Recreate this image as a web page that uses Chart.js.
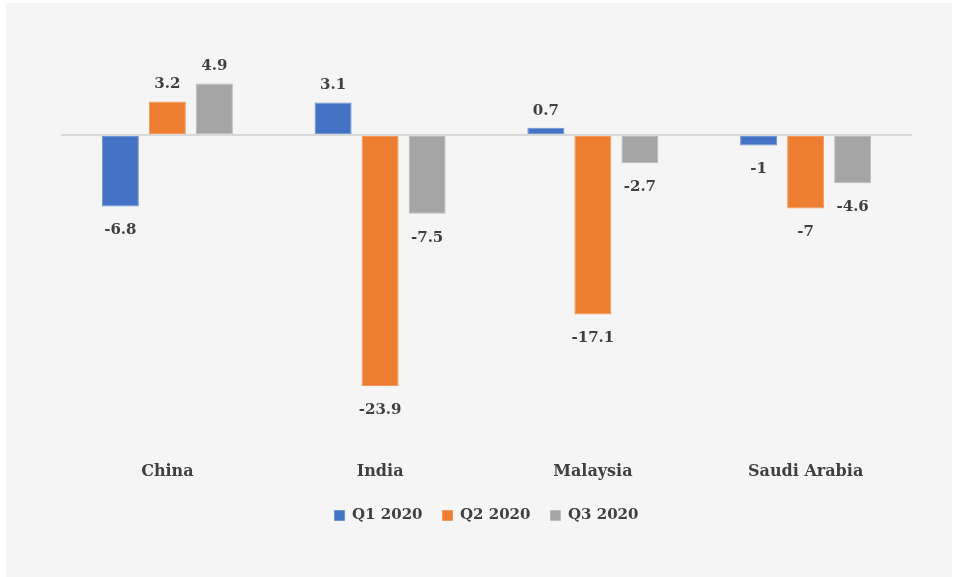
<!DOCTYPE html>
<html>
<head>
<meta charset="utf-8">
<script src="https://cdn.jsdelivr.net/npm/chart.js@4.4.1/dist/chart.umd.min.js"></script>
<style>
    html, body { margin: 0; padding: 0; background: #ffffff; }
    .panel {
        position: absolute;
        left: 6px;
        top: 3px;
        width: 946px;
        height: 574px;
        background: #f4f5f4;
    }
</style>
</head>
<body>
<div class="panel">
    <canvas id="gdp-chart" width="946" height="574"></canvas>
</div>
<script>
    // 国別・四半期別 GDP 成長率 (%)
    const countries = ['China', 'India', 'Malaysia', 'Saudi Arabia'];
    const seriesNames = ['Q1 2020', 'Q2 2020', 'Q3 2020'];
    const q1Values = [-6.8, 3.1, 0.7, -1];
    const q2Values = [3.2, -23.9, -17.1, -7];
    const q3Values = [4.9, -7.5, -2.7, -4.6];

    const fillColors = ['#4472c4', '#ed7d31', '#a5a5a5'];
    const edgeColors = ['#6f93d3', '#f29a5e', '#bcbcbc'];
    const textColor = '#404040';
    const fontFamily = '"DejaVu Serif", Georgia, serif';

    // 棒の端に値を描く
    const valueLabels = {
        id: 'valueLabels',
        afterDatasetsDraw(chart) {
            const ctx = chart.ctx;
            ctx.save();
            ctx.font = 'bold 15px ' + fontFamily;
            ctx.fillStyle = textColor;
            ctx.textAlign = 'center';
            ctx.textBaseline = 'middle';
            chart.data.datasets.forEach((ds, i) => {
                const meta = chart.getDatasetMeta(i);
                meta.data.forEach((bar, j) => {
                    const v = ds.data[j];
                    const y = v >= 0 ? bar.y - 17 : bar.y + 24;
                    ctx.fillText(String(v), bar.x, y);
                });
            });
            ctx.restore();
        }
    };

    const seriesValues = [q1Values, q2Values, q3Values];

    new Chart(document.getElementById('gdp-chart'), {
        type: 'bar',
        data: {
            labels: countries,
            datasets: seriesNames.map((name, i) => ({
                label: name,
                data: seriesValues[i],
                backgroundColor: fillColors[i],
                borderColor: edgeColors[i],
                borderWidth: 1,
                borderSkipped: false,
                categoryPercentage: 0.663,
                barPercentage: 0.787
            }))
        },
        options: {
            responsive: false,
            animation: false,
            layout: {
                padding: { top: 69, left: 55, right: 40, bottom: 44 }
            },
            plugins: {
                legend: {
                    position: 'bottom',
                    labels: {
                        boxWidth: 10,
                        boxHeight: 10,
                        padding: 20,
                        color: textColor,
                        font: { family: fontFamily, size: 15, weight: 'bold' }
                    }
                },
                tooltip: { enabled: false }
            },
            scales: {
                x: {
                    grid: { display: false },
                    border: { display: false },
                    ticks: {
                        padding: 46,
                        color: textColor,
                        font: { family: fontFamily, size: 16, weight: 'bold' }
                    },
                    // ラベルと凡例の間を詰める
                    afterFit(scale) {
                        scale.height = 80;
                    }
                },
                y: {
                    min: -26,
                    max: 6,
                    border: { display: false },
                    grid: {
                        drawTicks: false,
                        color: ctx => ctx.tick.value === 0 ? '#d9d9d9' : 'rgba(0,0,0,0)',
                        lineWidth: 2
                    },
                    ticks: { display: false, stepSize: 2 }
                }
            }
        },
        plugins: [valueLabels]
    });
</script>
</body>
</html>
